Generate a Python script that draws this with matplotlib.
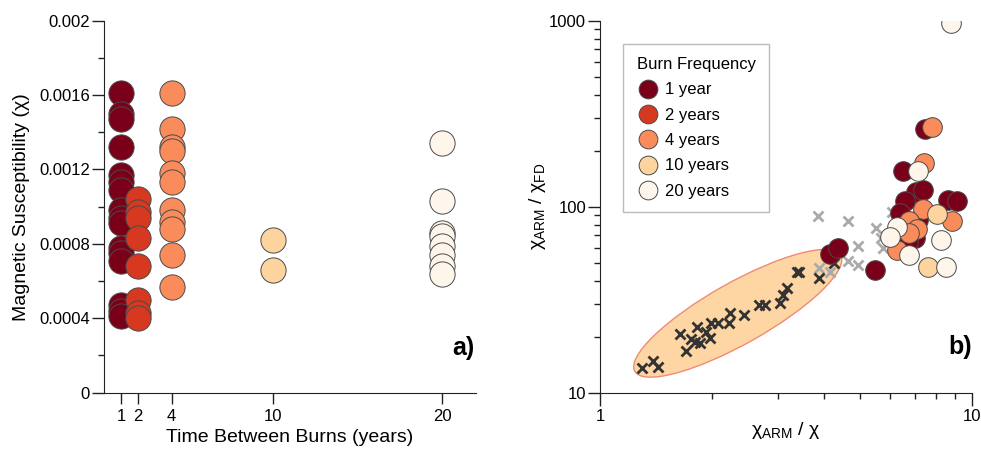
import matplotlib
matplotlib.use("Agg")
import matplotlib.pyplot as plt
from matplotlib.patches import Ellipse
from matplotlib.lines import Line2D
from matplotlib.ticker import FuncFormatter, MultipleLocator, LogLocator, NullFormatter

plt.rcParams['font.family'] = ['Liberation Sans', 'DejaVu Sans']
plt.rcParams['mathtext.fontset'] = 'custom'
plt.rcParams['mathtext.rm'] = 'Liberation Sans'
plt.rcParams['mathtext.it'] = 'Liberation Sans:italic'

# Burn frequency groups
labels = ['1 year', '2 years', '4 years', '10 years', '20 years']
colors = ['#7a0019', '#d63820', '#f98c5a', '#fdd49e', '#fef6eb']
years = [1, 2, 4, 10, 20]

# Panel a: magnetic susceptibility per burn interval
chi_1 = [0.00161, 0.00150, 0.00147, 0.00132, 0.00117, 0.00113, 0.00109, 0.00098,
         0.00094, 0.00091, 0.00078, 0.00075, 0.00071, 0.00047, 0.00044, 0.00041]
chi_2 = [0.00104, 0.00097, 0.00094, 0.00083, 0.00068, 0.00050, 0.00043, 0.00040]
chi_4 = [0.00161, 0.00142, 0.00132, 0.00130, 0.00118, 0.00113, 0.00098, 0.00092,
         0.00088, 0.00074, 0.00057]
chi_10 = [0.00082, 0.00066]
chi_20 = [0.00134, 0.00103, 0.00086, 0.00084, 0.00079, 0.00074, 0.00068, 0.00064]
chi_all = [chi_1, chi_2, chi_4, chi_10, chi_20]

# Panel b: chiARM/chi vs chiARM/chiFD
b1_x = [7.46, 6.50, 7.06, 7.38, 8.62, 9.08, 6.59, 6.40, 7.16, 7.0, 6.7, 5.48, 4.15, 4.37]
b1_y = [261, 156, 120, 123, 109, 107, 107, 92, 85, 67.6, 64.7, 45.7, 55.7, 59.7]
b2_x = []
b2_y = []
b4_x = [7.78, 7.43, 7.38, 8.81, 6.77, 7.09, 6.77, 6.29]
b4_y = [268, 171, 96.8, 84, 84, 75.6, 71.9, 58.5]
b10_x = [8.02, 7.62]
b10_y = [91.4, 47.6]
b20_x = [8.77, 7.16, 6.26, 6.01, 8.22, 6.77, 8.5]
b20_y = [975, 156, 78, 68.5, 66.2, 55, 47.6]
b_x = [b1_x, b2_x, b4_x, b10_x, b20_x]
b_y = [b1_y, b2_y, b4_y, b10_y, b20_y]

# reference samples (crosses)
ref_dark_x = [1.294, 1.385, 1.434, 1.640, 1.702, 1.756, 1.819, 1.800, 1.856, 1.926,
              1.975, 1.987, 2.078, 2.225, 2.235, 2.437, 2.679, 2.780, 3.044, 3.108,
              3.172, 3.388, 3.430, 3.882, 4.252]
ref_dark_y = [13.5, 14.8, 13.8, 20.7, 16.8, 19.4, 22.5, 18.8, 18.4, 21.3,
              19.6, 23.6, 23.6, 23.6, 26.7, 26.2, 29.6, 29.6, 30.5, 33.5,
              36.4, 44.7, 44.7, 41.2, 49.6]
ref_gray_x = [3.84, 4.65, 5.50, 4.92, 5.68, 5.75, 4.63, 4.92, 3.88, 4.15, 6.1]
ref_gray_y = [89.5, 84, 77.1, 61.5, 67.6, 59.7, 51, 48.6, 46.6, 44.7, 94]

fig = plt.figure(figsize=(9.81, 4.49), dpi=100)
ax1 = fig.add_axes([0.106, 0.1254, 0.379, 0.8286])
ax2 = fig.add_axes([0.6116, 0.1254, 0.3795, 0.8286])

for ax in (ax1, ax2):
    ax.spines['top'].set_visible(False)
    ax.spines['right'].set_visible(False)
    ax.spines['left'].set_color('#222222')
    ax.spines['bottom'].set_color('#222222')
    ax.tick_params(which='major', direction='out', length=9, width=1, labelsize=12,
                   color='#222222')
    ax.tick_params(which='minor', direction='out', length=4.5, width=1, color='#222222')
    ax.tick_params(axis='y', pad=1)
    ax.tick_params(axis='x', pad=3)

# ---- panel a
for yr, vals, c in zip(years, chi_all, colors):
    ax1.scatter([yr] * len(vals), vals, s=330, color=c, edgecolor='#4a4a4a',
                linewidth=0.7, zorder=3)
ax1.set_xlim(0, 22)
ax1.set_ylim(0, 0.002)
ax1.set_xticks(years)
ax1.yaxis.set_major_locator(MultipleLocator(0.0004))
ax1.yaxis.set_minor_locator(MultipleLocator(0.0002))
ax1.yaxis.set_major_formatter(FuncFormatter(lambda v, p: '{:g}'.format(round(v, 6))))
ax1.tick_params(axis='x', length=8, pad=3.5)
ax1.set_xlabel('Time Between Burns (years)', fontsize=14)
ax1.xaxis.set_label_coords(0.5, -0.097)
ax1.set_ylabel('Magnetic Susceptibility (χ)', fontsize=14)
ax1.yaxis.set_label_coords(-0.198, 0.5)
ax1.text(0.997, 0.12, 'a)', transform=ax1.transAxes, ha='right', va='center',
         fontsize=18, fontweight='bold')

# ---- panel b
ax2.set_xscale('log')
ax2.set_yscale('log')
ax2.set_xlim(1, 10)
ax2.set_ylim(10, 1000)

ell = Ellipse((0.370, 0.2134), 0.635, 0.165, angle=29.4, transform=ax2.transAxes,
              facecolor='#fdd6a4', edgecolor='#f08a74', linewidth=1.0, zorder=1)
ax2.add_patch(ell)

ax2.plot(ref_gray_x, ref_gray_y, linestyle='none', marker='x', markersize=6.5,
         mew=2, color='#aaaaaa', zorder=2)
ax2.plot(ref_dark_x, ref_dark_y, linestyle='none', marker='x', markersize=6.5,
         mew=2, color='#333333', zorder=2)

for xs, ys, c in zip(b_x, b_y, colors):
    if xs:
        ax2.scatter(xs, ys, s=200, color=c, edgecolor='#4a4a4a', linewidth=0.7, zorder=3)

ax2.xaxis.set_major_locator(LogLocator(base=10, numticks=5))
ax2.xaxis.set_minor_locator(LogLocator(base=10, subs=range(2, 10), numticks=10))
ax2.xaxis.set_minor_formatter(NullFormatter())
ax2.yaxis.set_minor_locator(LogLocator(base=10, subs=range(2, 10), numticks=10))
ax2.yaxis.set_minor_formatter(NullFormatter())
ax2.xaxis.set_major_formatter(FuncFormatter(lambda v, p: '{:g}'.format(v)))
ax2.yaxis.set_major_formatter(FuncFormatter(lambda v, p: '{:g}'.format(v)))
ax2.tick_params(axis='x', pad=2.5)

ax2.set_xlabel(r'χ$_{\mathrm{ARM}}$ / χ', fontsize=14)
ax2.xaxis.set_label_coords(0.5, -0.074)
ax2.set_ylabel(r'χ$_{\mathrm{ARM}}$ / χ$_{\mathrm{FD}}$', fontsize=14)
ax2.yaxis.set_label_coords(-0.14, 0.5)
ax2.text(1.0, 0.124, 'b)', transform=ax2.transAxes, ha='right', va='center',
         fontsize=18, fontweight='bold')

handles = [Line2D([], [], linestyle='none', marker='o', markersize=13.5,
                  markerfacecolor=c, markeredgecolor='#4a4a4a', markeredgewidth=0.7)
           for c in colors]
leg = ax2.legend(handles, labels, title='Burn Frequency', loc='upper left',
                 bbox_to_anchor=(0.063, 0.938), borderaxespad=0, fontsize=12,
                 title_fontsize=12, frameon=True, fancybox=False, handletextpad=0.3,
                 labelspacing=0.62, borderpad=0.8, handlelength=1.4,
                 alignment='left')
leg.get_frame().set_edgecolor('#aaaaaa')
leg.get_frame().set_linewidth(1.0)

fig.savefig('out.png', dpi=100)
